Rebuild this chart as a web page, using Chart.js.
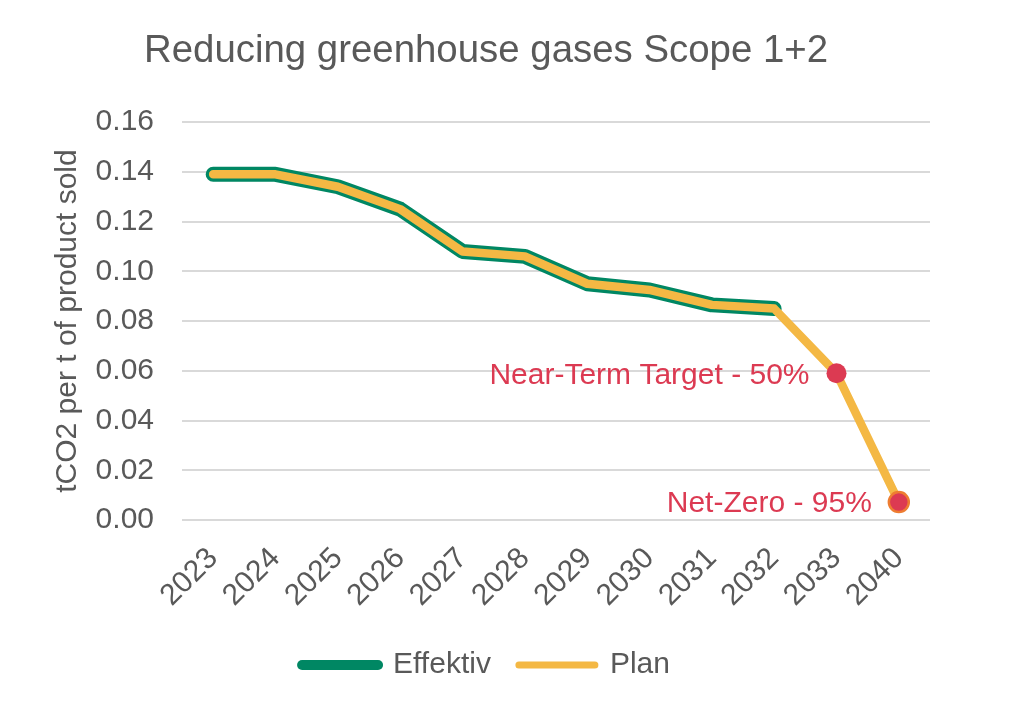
<!DOCTYPE html>
<html>
<head>
<meta charset="utf-8">
<script src="https://cdn.jsdelivr.net/npm/chart.js@4.4.1/dist/chart.umd.min.js"></script>
<style>
  html, body { margin: 0; padding: 0; background: #ffffff; }
  #wrap { width: 1024px; height: 714px; position: relative; }
</style>
</head>
<body>
<div id="wrap"><canvas id="c" width="1024" height="714"></canvas></div>
<script>
const categories = ['2023','2024','2025','2026','2027','2028','2029','2030','2031','2032','2033','2040'];
const effektiv = [0.139, 0.139, 0.134, 0.125, 0.108, 0.106, 0.095, 0.0925, 0.0865, 0.085, null, null];
const plan     = [0.139, 0.139, 0.134, 0.125, 0.108, 0.106, 0.095, 0.0925, 0.0865, 0.085, 0.059, 0.0072];
const annotLabels = [null, null, null, null, null, null, null, null, null, null, 'Near-Term Target - 50%', 'Net-Zero - 95%'];
const chartTitle = 'Reducing greenhouse gases Scope 1+2';
const yTitle = 'tCO2 per t of product sold';
const seriesNames = ['Effektiv', 'Plan'];

const TEXT = '#595959';
const GREEN = '#008763';
const YELLOW = '#F4B844';
const RED = '#DC3A52';
const ORANGE = '#EE7D31';
const FONT = "'Liberation Sans', Arial, sans-serif";

const annotPlugin = {
  id: 'annot',
  afterDatasetsDraw(chart) {
    const meta = chart.getDatasetMeta(1);
    const ctx = chart.ctx;
    ctx.save();
    ctx.font = '30px ' + FONT;
    ctx.fillStyle = RED;
    ctx.textAlign = 'right';
    ctx.textBaseline = 'middle';
    annotLabels.forEach((lab, i) => {
      if (!lab) return;
      const pt = meta.data[i];
      ctx.fillText(lab, pt.x - 27, pt.y + 2);
    });
    ctx.restore();
  }
};

new Chart(document.getElementById('c'), {
  type: 'line',
  data: {
    labels: categories,
    datasets: [
      {
        label: seriesNames[0],
        data: effektiv,
        borderColor: GREEN,
        backgroundColor: GREEN,
        borderWidth: 15,
        borderCapStyle: 'round',
        borderJoinStyle: 'round',
        pointRadius: 0,
        pointHoverRadius: 0,
        tension: 0,
        order: 1
      },
      {
        label: seriesNames[1],
        data: plan,
        borderColor: YELLOW,
        backgroundColor: YELLOW,
        borderWidth: 8.5,
        borderCapStyle: 'round',
        borderJoinStyle: 'round',
        pointRadius: ctx => annotLabels[ctx.dataIndex] ? 10 : 0,
        pointHoverRadius: ctx => annotLabels[ctx.dataIndex] ? 10 : 0,
        pointBackgroundColor: RED,
        pointBorderColor: ctx => ctx.dataIndex === categories.length - 1 ? ORANGE : RED,
        pointBorderWidth: ctx => ctx.dataIndex === categories.length - 1 ? 2.5 : 0,
        tension: 0,
        order: 0
      }
    ]
  },
  plugins: [annotPlugin],
  options: {
    responsive: false,
    animation: false,
    devicePixelRatio: 1,
    layout: { padding: { left: 42, right: 94, top: 0, bottom: 24 } },
    plugins: {
      title: {
        display: true,
        text: chartTitle,
        color: TEXT,
        font: { family: FONT, size: 38.4, weight: 'normal' },
        padding: { top: 28, bottom: 48 }
      },
      legend: {
        position: 'bottom',
        labels: {
          color: TEXT,
          font: { family: FONT, size: 30 },
          usePointStyle: true,
          pointStyleWidth: 76,
          padding: 28,
          generateLabels(chart) {
            const items = Chart.defaults.plugins.legend.labels.generateLabels(chart);
            items.forEach(it => {
              it.pointStyle = 'line';
              it.lineCap = 'round';
              it.lineWidth = it.datasetIndex === 0 ? 10 : 7;
              it.strokeStyle = it.datasetIndex === 0 ? GREEN : YELLOW;
            });
            return items.sort((a, b) => a.datasetIndex - b.datasetIndex);
          }
        }
      },
      tooltip: { enabled: false }
    },
    scales: {
      x: {
        offset: true,
        grid: { display: false, drawTicks: false, offset: true },
        border: { display: false },
        afterFit(scale) { scale.height = 102; },
        ticks: {
          color: TEXT,
          font: { family: FONT, size: 30 },
          maxRotation: 45,
          minRotation: 45,
          padding: 21,
          autoSkip: false
        }
      },
      y: {
        min: 0,
        max: 0.16,
        afterFit(scale) { scale.width = 140; },
        grid: { color: '#D9D9D9', lineWidth: 2, drawTicks: false },
        border: { display: false },
        ticks: {
          stepSize: 0.02,
          color: TEXT,
          font: { family: FONT, size: 30 },
          padding: 28,
          callback: v => Number(v).toFixed(2)
        },
        title: {
          display: true,
          text: yTitle,
          color: TEXT,
          font: { family: FONT, size: 30 },
          padding: { top: 8, bottom: 4 }
        }
      }
    }
  }
});
</script>
</body>
</html>
